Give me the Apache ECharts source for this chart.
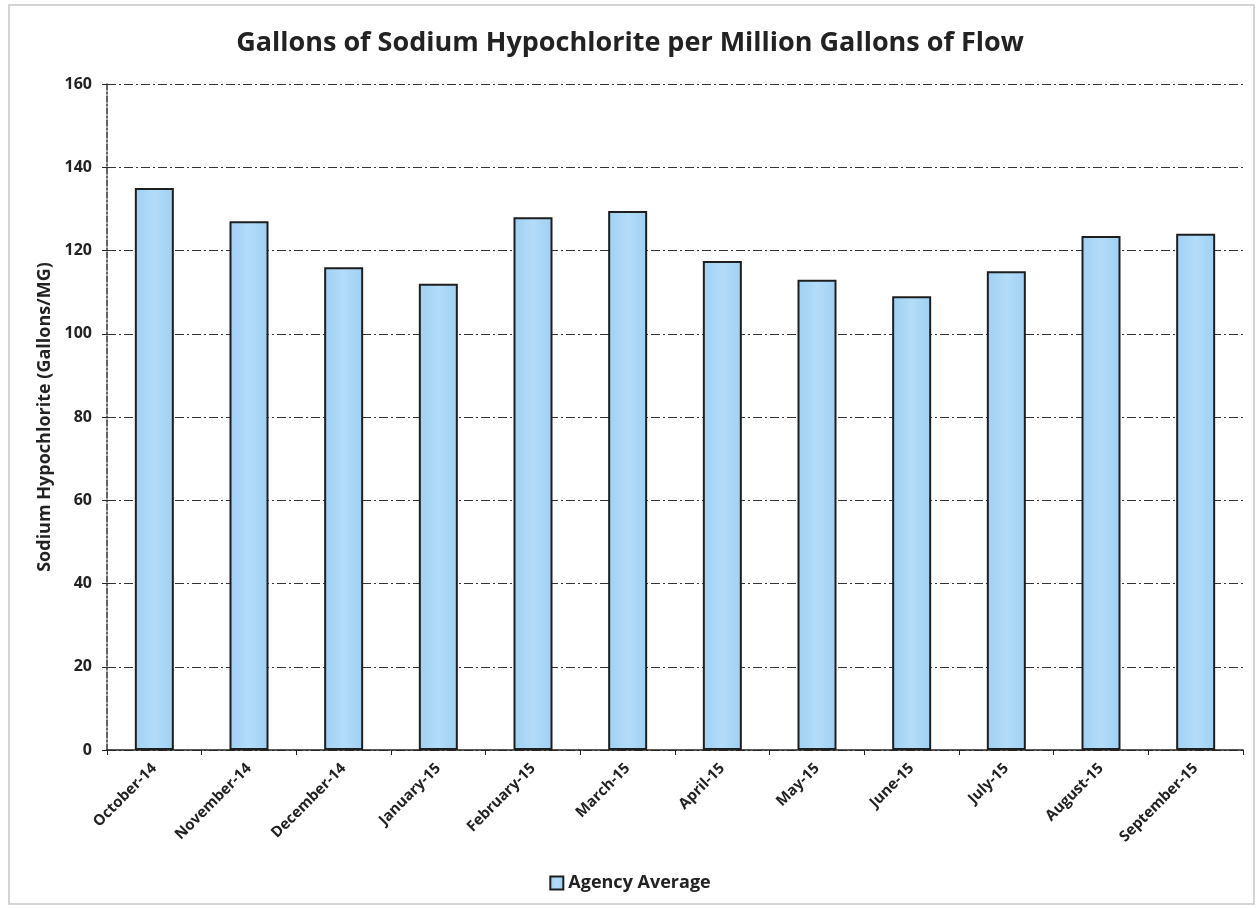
<!DOCTYPE html>
<html>
<head>
<meta charset="utf-8">
<script src="https://cdn.jsdelivr.net/npm/echarts@6/dist/echarts.min.js"></script>
<style>
  html, body { margin: 0; padding: 0; background: #ffffff; }
  #chart { width: 1260px; height: 909px; }
</style>
</head>
<body>
<div id="chart"></div>
<script>
// Monthly sodium hypochlorite dosing, gallons per million gallons of flow
const months = [
  'October-14', 'November-14', 'December-14', 'January-15', 'February-15', 'March-15',
  'April-15', 'May-15', 'June-15', 'July-15', 'August-15', 'September-15'
];
const agencyAverage = [135, 127, 116, 112, 128, 129.5, 117.5, 113, 109, 115, 123.5, 124];
const yTicks = { min: 0, max: 160, interval: 20 };

const FONT = '"Open Sans", "Liberation Sans", sans-serif';
const gridDash = [9, 3, 2, 3];

const chart = echarts.init(document.getElementById('chart'), null, { renderer: 'canvas' });

chart.setOption({
  backgroundColor: '#ffffff',
  animation: false,
  title: {
    text: 'Gallons of Sodium Hypochlorite per Million Gallons of Flow',
    left: 'center',
    top: 25,
    textStyle: { fontFamily: FONT, fontWeight: 'bold', fontSize: 27, color: '#222222' }
  },
  graphic: [{
    type: 'rect',
    shape: { x: 9, y: 5, width: 1245, height: 899 },
    style: { fill: null, stroke: '#c8c8c8', lineWidth: 1.5 },
    silent: true
  }],
  legend: {
    bottom: 12,
    left: 'center',
    itemWidth: 13,
    itemHeight: 13,
    itemGap: 4,
    textStyle: { fontFamily: FONT, fontWeight: 'bold', fontSize: 18, color: '#222222' },
    data: [{ name: 'Agency Average', icon: 'rect' }]
  },
  grid: { left: 107, right: 17, top: 84, bottom: 159 },
  xAxis: {
    type: 'category',
    data: months,
    axisLine: { lineStyle: { color: '#222222', width: 1.5 } },
    axisTick: { show: true, alignWithLabel: false, length: 5, lineStyle: { color: '#222222' } },
    axisLabel: {
      rotate: 45,
      interval: 0,
      margin: 16,
      fontFamily: FONT,
      fontWeight: 'bold',
      fontSize: 15,
      color: '#222222'
    }
  },
  yAxis: {
    type: 'value',
    min: yTicks.min,
    max: yTicks.max,
    interval: yTicks.interval,
    name: 'Sodium Hypochlorite (Gallons/MG)',
    nameLocation: 'middle',
    nameGap: 52,
    nameTextStyle: { fontFamily: FONT, fontWeight: 'bold', fontSize: 18, color: '#222222' },
    axisLine: { show: true, lineStyle: { color: '#333333', width: 1.5, type: [6, 2, 2, 2] } },
    axisTick: { show: true, length: 5, lineStyle: { color: '#222222' } },
    axisLabel: { fontFamily: FONT, fontWeight: 'bold', fontSize: 16, color: '#222222', margin: 15 },
    splitLine: { show: true, lineStyle: { color: '#333333', width: 1.2, type: gridDash } }
  },
  series: [{
    name: 'Agency Average',
    type: 'bar',
    data: agencyAverage,
    barWidth: 39,
    itemStyle: {
      color: new echarts.graphic.LinearGradient(0, 0, 1, 0, [
        { offset: 0, color: '#9fd0f3' },
        { offset: 0.5, color: '#b3dcf8' },
        { offset: 1, color: '#9fd0f3' }
      ]),
      borderColor: '#1e1e1e',
      borderWidth: 2
    }
  }]
});
</script>
</body>
</html>
